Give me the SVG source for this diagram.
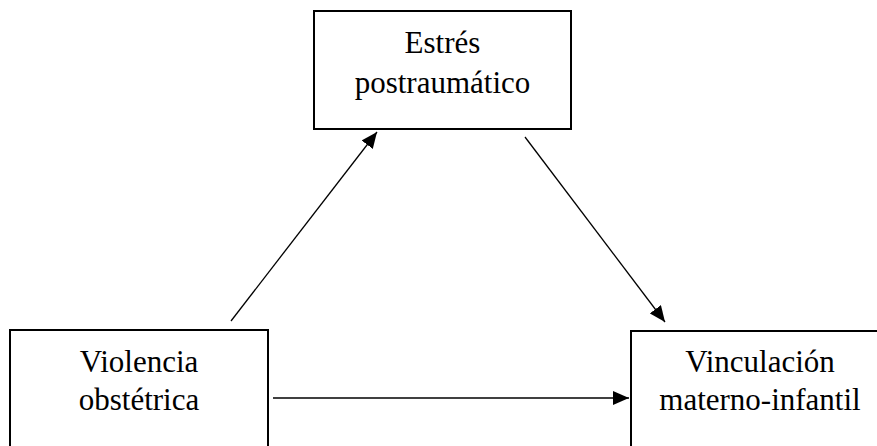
<svg xmlns="http://www.w3.org/2000/svg" width="877" height="446" viewBox="0 0 877 446">
<style>
.box{fill:#fff;stroke:#000;stroke-width:2}
.lbl{font-family:"Liberation Serif","Times New Roman",serif;font-size:31px;fill:#000;text-anchor:middle}
.conn{stroke:#000;stroke-width:1.3;fill:none;marker-end:url(#ah)}
</style>
<defs>
<marker id="ah" markerUnits="userSpaceOnUse" markerWidth="16" markerHeight="14" refX="16" refY="7" orient="auto">
<path d="M0,0 L16,7 L0,14 Z" fill="#000"/>
</marker>
</defs>
<rect width="877" height="446" fill="#fff"/>
<g id="estres">
<rect class="box" x="314" y="11" width="257" height="118"/>
<text class="lbl" x="442.5" y="53">Estrés</text>
<text class="lbl" x="442.5" y="93">postraumático</text>
</g>
<g id="violencia">
<rect class="box" x="10" y="330" width="258" height="130"/>
<text class="lbl" x="139" y="372">Violencia</text>
<text class="lbl" x="139" y="410">obstétrica</text>
</g>
<g id="vinculacion">
<rect class="box" x="631" y="331" width="258" height="130"/>
<text class="lbl" x="760" y="372">Vinculación</text>
<text class="lbl" x="760" y="410">materno-infantil</text>
</g>
<g id="connectors">
<line class="conn" x1="231" y1="321" x2="377" y2="132"/>
<line class="conn" x1="525" y1="137" x2="665" y2="322"/>
<line class="conn" x1="273" y1="398" x2="629" y2="398"/>
</g>
</svg>
